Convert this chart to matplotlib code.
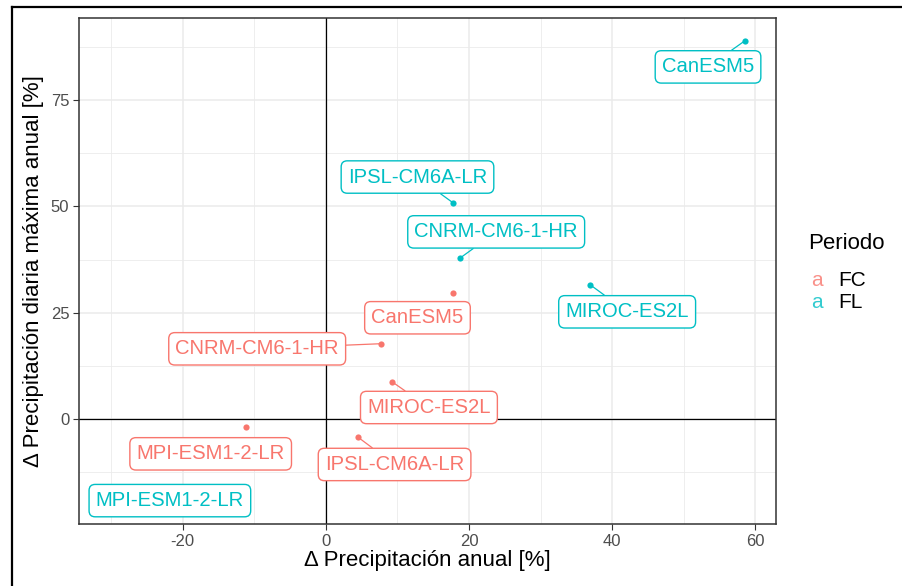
import matplotlib
matplotlib.use('Agg')
import matplotlib.pyplot as plt
from matplotlib.lines import Line2D

plt.rcParams['font.family'] = ['Liberation Sans', 'DejaVu Sans']
plt.rcParams['axes.unicode_minus'] = False

modelos = ['CanESM5', 'CNRM-CM6-1-HR', 'IPSL-CM6A-LR', 'MIROC-ES2L', 'MPI-ESM1-2-LR']
periodos = ['FC', 'FL']
colores = {'FC': '#F8766D', 'FL': '#00BFC4'}

# cambios (%) por modelo
fc_x = [17.7, 7.7, 4.5, 9.2, -11.2]
fc_y = [29.6, 17.7, -4.3, 8.8, -2.0]
fl_x = [58.6, 18.8, 17.8, 36.9, -21.8]
fl_y = [89.0, 37.9, 50.8, 31.6, -19.2]

# posiciones de las etiquetas (tipo ggrepel)
fc_lx = [12.8, -9.6, 9.6, 14.4, -16.1]
fc_ly = [23.8, 16.5, -10.7, 2.7, -8.2]
fl_lx = [53.4, 23.8, 12.8, 42.1, -21.8]
fl_ly = [82.8, 44.0, 56.9, 25.2, -19.2]
sin_segmento = [('FC', 'CanESM5'), ('FC', 'MPI-ESM1-2-LR'), ('FL', 'MPI-ESM1-2-LR')]

datos = {'FC': (fc_x, fc_y, fc_lx, fc_ly), 'FL': (fl_x, fl_y, fl_lx, fl_ly)}

W, H = 903, 586
fig = plt.figure(figsize=(W / 100, H / 100), dpi=100)
ax = fig.add_axes([79 / W, (H - 524) / H, (776 - 79) / W, (524 - 18) / H])

ax.set_xlim(-34.5, 62.9)
ax.set_ylim(-24.7, 94.3)
ax.set_xticks([-20, 0, 20, 40, 60])
ax.set_xticks([-30, -10, 10, 30, 50], minor=True)
ax.set_yticks([0, 25, 50, 75])
ax.set_yticks([-12.5, 12.5, 37.5, 62.5, 87.5], minor=True)
ax.grid(which='major', color='#EBEBEB', lw=1.1)
ax.grid(which='minor', color='#EBEBEB', lw=0.6)
ax.set_axisbelow(True)
ax.tick_params(which='major', length=4, width=0.8, color='#333333',
               labelsize=12, labelcolor='#4D4D4D', pad=3)
ax.tick_params(which='minor', length=0)
for s in ax.spines.values():
    s.set_color('#333333')
    s.set_linewidth(1.1)

ax.axhline(0, color='black', lw=0.9, zorder=1)
ax.axvline(0, color='black', lw=0.9, zorder=1)

for p in periodos:
    xs, ys, lxs, lys = datos[p]
    c = colores[p]
    ax.scatter(xs, ys, s=20, color=c, zorder=3, linewidths=0)
    for m, x, y, lx, ly in zip(modelos, xs, ys, lxs, lys):
        arrow = None
        if (p, m) not in sin_segmento:
            arrow = dict(arrowstyle='-', color=c, lw=0.9, shrinkA=0, shrinkB=0)
        ax.annotate(m, xy=(x, y), xytext=(lx, ly), ha='center', va='center',
                    fontsize=14.6, color=c, zorder=4, arrowprops=arrow,
                    bbox=dict(boxstyle='round,pad=0.33,rounding_size=0.3',
                              fc='white', ec=c, lw=1.0))

ax.set_xlabel('Δ Precipitación anual [%]', fontsize=16, labelpad=1)
ax.set_ylabel('Δ Precipitación diaria máxima anual [%]', fontsize=16, labelpad=5)

# leyenda
fig.text(808 / W, 1 - 243 / H, 'Periodo', fontsize=16, va='center', ha='left')
for i, p in enumerate(periodos):
    yy = 1 - (280 + 22 * i) / H
    fig.text(817 / W, yy, 'a', fontsize=15, color=colores[p], alpha=0.8,
             va='center', ha='center')
    fig.text(838 / W, yy, p, fontsize=15, va='center', ha='left')

# marco exterior
fig.add_artist(Line2D([12 / W, 12 / W], [0, 1 - 7 / H], color='black', lw=1.6,
                      transform=fig.transFigure))
fig.add_artist(Line2D([12 / W, 1], [1 - 7 / H, 1 - 7 / H], color='black', lw=1.6,
                      transform=fig.transFigure))

fig.savefig('out.png', dpi=100)
